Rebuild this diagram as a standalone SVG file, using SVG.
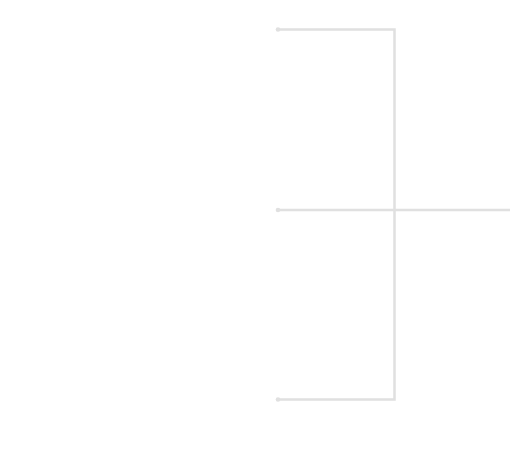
<svg xmlns="http://www.w3.org/2000/svg" width="510" height="456" viewBox="0 0 510 456">
<style>
.link{fill:none;stroke:#e0e0e0;stroke-width:2.5}
.dot{fill:#e0e0e0}
</style>
<rect width="510" height="456" fill="#ffffff"/>
<g id="connectors">
<path class="link" d="M278 29.5H394.5V399.5H278"/>
<path class="link" d="M278 210H510"/>
<circle class="dot" cx="278" cy="29.5" r="2.3"/>
<circle class="dot" cx="278" cy="210" r="2.3"/>
<circle class="dot" cx="278" cy="399.5" r="2.3"/>
</g>
</svg>
